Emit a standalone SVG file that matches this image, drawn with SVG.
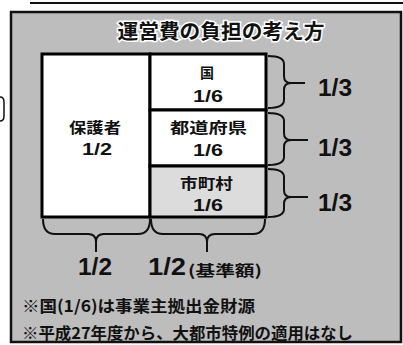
<svg xmlns="http://www.w3.org/2000/svg" width="403" height="345" viewBox="0 0 403 345">
<style>
.t{font-family:"Liberation Sans","Noto Sans CJK JP",sans-serif;font-weight:bold;fill:#111}
.j{font-family:"Noto Sans CJK JP","Liberation Sans",sans-serif;font-weight:bold;fill:#111}
.cell{stroke:#000;stroke-width:3}
.br{fill:none;stroke:#111;stroke-width:2}
</style>
<rect width="403" height="345" fill="#fff"/>
<g id="frame">
<line x1="30" y1="3" x2="403" y2="3" stroke="#111" stroke-width="2"/>
<rect x="11" y="12" width="390" height="330" fill="#bdbdbd" stroke="#111" stroke-width="2.5"/>
<path d="M0,97 Q4,97 4,102 L4,116 Q4,121 0,121" fill="none" stroke="#111" stroke-width="1.5"/>
</g>
<g id="title">
<text class="j" x="221" y="39" font-size="20" text-anchor="middle" textLength="207" lengthAdjust="spacingAndGlyphs" stroke="#fff" stroke-width="3" paint-order="stroke">運営費の負担の考え方</text>
</g>
<g id="hogosha">
<rect class="cell" x="42" y="54" width="108" height="163" fill="#fff"/>
<text class="j" x="95" y="133" font-size="15" text-anchor="middle" textLength="52" lengthAdjust="spacingAndGlyphs">保護者</text>
<text class="t" x="97" y="155" font-size="17" text-anchor="middle" textLength="30" lengthAdjust="spacingAndGlyphs">1/2</text>
</g>
<g id="kuni">
<rect class="cell" x="150" y="54" width="116" height="56" fill="#fff"/>
<text class="j" x="207" y="78" font-size="14" text-anchor="middle">国</text>
<text class="t" x="208" y="102" font-size="17" text-anchor="middle" textLength="30" lengthAdjust="spacingAndGlyphs">1/6</text>
</g>
<g id="todofuken">
<rect class="cell" x="150" y="110" width="116" height="56" fill="#fff"/>
<text class="j" x="208.5" y="133" font-size="15" text-anchor="middle" textLength="77" lengthAdjust="spacingAndGlyphs">都道府県</text>
<text class="t" x="208" y="156" font-size="17" text-anchor="middle" textLength="30" lengthAdjust="spacingAndGlyphs">1/6</text>
</g>
<g id="shichoson">
<rect class="cell" x="150" y="166" width="116" height="51" fill="#dcdcdc"/>
<text class="j" x="206.5" y="189" font-size="15" text-anchor="middle" textLength="53" lengthAdjust="spacingAndGlyphs">市町村</text>
<text class="t" x="208" y="211" font-size="17" text-anchor="middle" textLength="30" lengthAdjust="spacingAndGlyphs">1/6</text>
</g>
<g id="connectors">
<path class="br" d="M268,56 Q284,56 284,64 L284,76 Q284,83 291,83 Q284,83 284,90 L284,100 Q284,108 268,108 M291,83 L305,83"/>
<path class="br" d="M268,113 Q284,113 284,121 L284,133 Q284,140 291,140 Q284,140 284,147 L284,157 Q284,165 268,165 M291,140 L308,140"/>
<path class="br" d="M268,169 Q284,169 284,177 L284,190 Q284,197 291,197 Q284,197 284,204 L284,209 Q284,217 268,217 M291,197 L308,197"/>
<path class="br" d="M43,219 Q43,234 55,234 L88,234 Q96,234 96,242 Q96,234 104,234 L138,234 Q150,234 150,219 M96,242 L96,252"/>
<path class="br" d="M151,219 Q151,234 163,234 L199,234 Q207,234 207,242 Q207,234 215,234 L253,234 Q265,234 265,219 M207,242 L207,252"/>
</g>
<g id="labels">
<text class="t" x="318" y="96" font-size="23" textLength="34" lengthAdjust="spacingAndGlyphs">1/3</text>
<text class="t" x="318" y="156" font-size="23" textLength="34" lengthAdjust="spacingAndGlyphs">1/3</text>
<text class="t" x="318" y="211" font-size="23" textLength="34" lengthAdjust="spacingAndGlyphs">1/3</text>
<text class="t" x="78" y="275" font-size="24" textLength="34" lengthAdjust="spacingAndGlyphs">1/2</text>
<text class="t" x="148" y="275" font-size="24" textLength="38" lengthAdjust="spacingAndGlyphs">1/2</text>
<text class="j" x="188" y="276" font-size="15" textLength="74" lengthAdjust="spacingAndGlyphs">(基準額)</text>
</g>
<g id="notes">
<text class="j" x="22" y="312" font-size="16" textLength="233" lengthAdjust="spacingAndGlyphs">※国(1/6)は事業主拠出金財源</text>
<text class="j" x="22" y="339" font-size="16" textLength="331" lengthAdjust="spacingAndGlyphs">※平成27年度から、大都市特例の適用はなし</text>
</g>
</svg>
